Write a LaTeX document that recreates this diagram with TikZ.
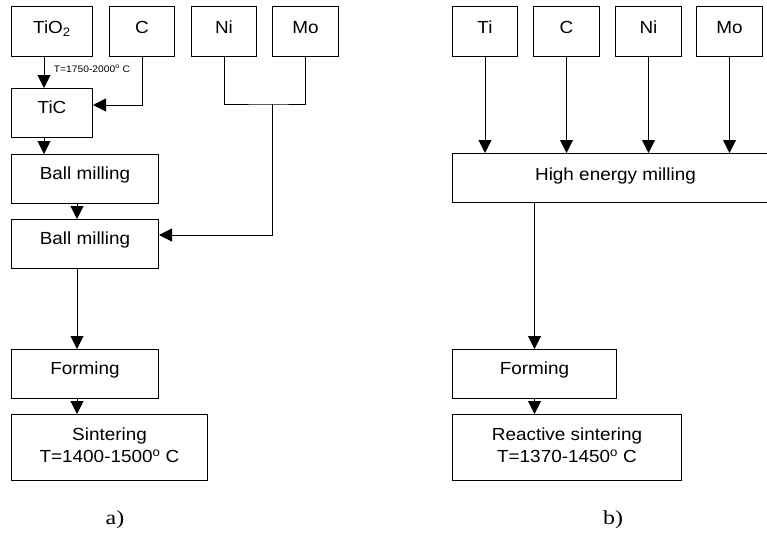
\documentclass[tikz,border=0pt]{standalone}
\usepackage{fontspec}
\setmainfont{Liberation Sans}[FakeStretch=1.08]
\newfontfamily\capfont{Liberation Serif}[FakeStretch=1.2]
\usetikzlibrary{arrows.meta,positioning}

\begin{document}
\begin{tikzpicture}[x=1pt,y=-1pt,line width=1pt,>={Triangle[length=13pt,width=13pt]}]

    \tikzset{block/.style={draw,rectangle,anchor=north west,inner sep=0pt,
        minimum height=49pt,text height=25pt,text depth=24pt,
        font=\fontsize{17.5}{22}\selectfont},
      topblock/.style={block,minimum height=50pt,text height=27pt,text depth=23pt},
      twoline/.style={block,align=center,minimum height=66pt,text height=48pt,text depth=18pt},
      caption/.style={font=\capfont\fontsize{20}{22}\selectfont}}
    \useasboundingbox (0,0) rectangle (767,535);

    % a) conventional route
    \node[topblock,minimum width=81pt] (tio) at (11,6) {TiO\textsubscript{2}};
    \node[topblock,minimum width=65pt] (c) at (109,6) {C};
    \node[topblock,minimum width=65pt] (ni) at (191,6) {Ni};
    \node[topblock,minimum width=66pt] (mo) at (272,6) {Mo};
    \node[block,minimum width=81pt] (tic) at (11,88) {TiC};
    \node[block,minimum width=147pt] (bm1) at (11,154) {Ball milling};
    \node[block,minimum width=147pt] (bm2) at (11,219) {Ball milling};
    \node[block,minimum width=147pt] (forma) at (11,349) {Forming};
    \node[twoline,minimum width=196pt] (sinta) at (11,414) {Sintering\\T=1400-1500\textsuperscript{o} C};
    \coordinate (nimo) at (272,104);
    \node[font=\fontsize{9.5}{11}\selectfont] (temp) at (92,69) {T=1750-2000\textsuperscript{o} C};
    \node[caption] (capa) at (115,520) {a)};

    % b) reactive route
    \node[topblock,minimum width=65pt] (ti) at (452,6) {Ti};
    \node[topblock,minimum width=66pt] (cb) at (533,6) {C};
    \node[topblock,minimum width=66pt] (nib) at (615,6) {Ni};
    \node[topblock,minimum width=66pt] (mob) at (696,6) {Mo};
    \node[block,minimum width=326pt,text height=27pt,text depth=22pt] (hem) at (452,153) {High energy milling};
    \node[block,minimum width=164pt] (formb) at (452,349) {Forming};
    \node[twoline,minimum width=229pt] (sintb) at (452,414) {Reactive sintering\\T=1370-1450\textsuperscript{o} C};
    \node[caption] (capb) at (613,520) {b)};

    \draw[->] ([xshift=33pt]tio.south west) -- ([xshift=33pt]tic.north west);
    \draw[->] (c.south) |- ([yshift=-17pt]tic.north east);
    \draw[->] ([xshift=33pt]tic.south west) -- ([xshift=33pt]bm1.north west);
    \draw[->] ([xshift=66pt]bm1.south west) -- ([xshift=66pt]bm2.north west);
    \draw (ni.south) |- (nimo) -| (mo.south);
    \draw[->] (nimo) |- ([yshift=-16pt]bm2.north east);
    \draw[->] ([xshift=66pt]bm2.south west) -- ([xshift=66pt]forma.north west);
    \draw[->] ([xshift=66pt]forma.south west) -- ([xshift=66pt]sinta.north west);

    \foreach \src in {ti,cb,nib,mob}
      \draw[->] (\src.south) -- (\src.south |- hem.north);
    \draw[->] (formb.north |- hem.south) -- (formb.north);
    \draw[->] (formb.south) -- (formb.south |- sintb.north);
\end{tikzpicture}
\end{document}
